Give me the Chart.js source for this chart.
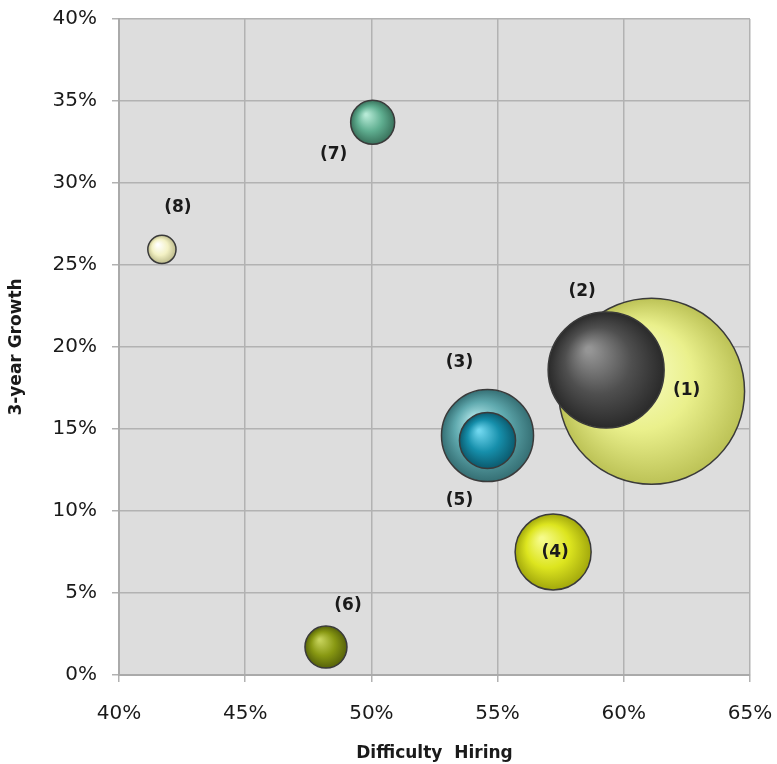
<!DOCTYPE html>
<html>
<head>
<meta charset="utf-8">
<script src="https://cdn.jsdelivr.net/npm/chart.js@4"></script>
<style>
  html, body { margin: 0; padding: 0; background: #fff; }
  #wrap { width: 777px; height: 764px; }
</style>
</head>
<body>
<div id="wrap"><canvas id="chart"></canvas></div>
<script>
// data
const labels = ["(1)", "(2)", "(3)", "(4)", "(5)", "(6)", "(7)", "(8)"];
const difficultyHiring = [0.611, 0.593, 0.546, 0.572, 0.546, 0.482, 0.5005, 0.417];
const growth3y = [0.173, 0.186, 0.146, 0.075, 0.143, 0.017, 0.337, 0.2595];
const bubbleSize = [100, 38.9, 24.5, 16.7, 9.1, 5.1, 5.6, 2.3];
const xTicks = [0.40, 0.45, 0.50, 0.55, 0.60, 0.65];
const yTicks = [0, 0.05, 0.10, 0.15, 0.20, 0.25, 0.30, 0.35, 0.40];

// [highlight, base, edge]
const colors = [
  ["#fbffcf", "#eaf08c", "#bcc256"],
  ["#959595", "#4f4f4f", "#2a2a2a"],
  ["#aee3e6", "#5fa9ae", "#356f74"],
  ["#f6fb8a", "#dde51f", "#a2a80c"],
  ["#6fd6ee", "#168fab", "#0b5a6e"],
  ["#c6d25a", "#889812", "#56620a"],
  ["#b6ead6", "#5fae90", "#39715b"],
  ["#ffffff", "#f3f1c4", "#bdbb8c"],
];

const maxR = 93;
const maxSize = Math.max(...bubbleSize);
const points = labels.map((l, i) => ({
  x: difficultyHiring[i],
  y: growth3y[i],
  r: maxR * Math.sqrt(bubbleSize[i] / maxSize),
}));

// label offsets relative to bubble centre
const labelOffsets = [
  [35, -1], [-24, -78], [-28, -73], [2, 1], [-28, 60], [22, -42], [-39, 32], [16, -42],
];

function sphereFill(c) {
  const col = colors[c.dataIndex];
  const xs = c.chart.scales.x, ys = c.chart.scales.y;
  if (!xs || !ys || !c.raw) return col[1];
  const cx = xs.getPixelForValue(c.raw.x);
  const cy = ys.getPixelForValue(c.raw.y);
  const r = c.raw.r;
  if (![cx, cy, r].every(Number.isFinite)) return col[1];
  const g = c.chart.ctx.createRadialGradient(cx - r * 0.3, cy - r * 0.35, r * 0.05, cx, cy, r);
  g.addColorStop(0, col[0]);
  g.addColorStop(0.55, col[1]);
  g.addColorStop(1, col[2]);
  return g;
}

const plotBg = {
  id: "plotBg",
  beforeDraw(chart) {
    const a = chart.chartArea, ctx = chart.ctx;
    ctx.save();
    ctx.fillStyle = "#dddddd";
    ctx.fillRect(a.left, a.top, a.right - a.left, a.bottom - a.top);
    ctx.restore();
  },
};

const bubbleLabels = {
  id: "bubbleLabels",
  afterDatasetsDraw(chart) {
    const ctx = chart.ctx;
    const meta = chart.getDatasetMeta(0);
    ctx.save();
    ctx.font = "bold 17px 'DejaVu Sans'";
    ctx.fillStyle = "#1a1a1a";
    ctx.textAlign = "center";
    ctx.textBaseline = "middle";
    meta.data.forEach((el, i) => {
      ctx.fillText(labels[i], el.x + labelOffsets[i][0], el.y + labelOffsets[i][1]);
    });
    ctx.restore();
  },
};

const pct = (v) => Math.round(v * 100) + "%";

new Chart(document.getElementById("chart"), {
  type: "bubble",
  data: {
    datasets: [
      {
        data: points,
        backgroundColor: sphereFill,
        borderColor: "#3a3a3a",
        borderWidth: 1.5,
        hoverBorderWidth: 1.5,
        clip: false,
      },
    ],
  },
  options: {
    responsive: true,
    maintainAspectRatio: false,
    animation: false,
    layout: { autoPadding: false, padding: { top: 19, right: 27, left: 0, bottom: 0 } },
    plugins: {
      legend: { display: false },
      tooltip: { enabled: false },
    },
    scales: {
      x: {
        min: 0.4,
        max: 0.65,
        afterBuildTicks: (s) => { s.ticks = xTicks.map((v) => ({ value: v })); },
        afterFit: (s) => {
          s.height = 89;
          s.paddingLeft = 0;
          s.paddingRight = 0;
        },
        grid: { color: "#b2b2b2", lineWidth: 1.5, tickLength: 7 },
        border: { color: "#aaaaaa", width: 2 },
        ticks: {
          callback: pct,
          color: "#1a1a1a",
          font: { family: "'DejaVu Sans'", size: 20 },
          padding: 20,
          maxRotation: 0,
        },
        title: {
          display: true,
          text: "Difficulty  Hiring",
          color: "#1a1a1a",
          font: { family: "'DejaVu Sans'", size: 17, weight: "bold" },
          padding: { top: 4, bottom: 0 },
        },
      },
      y: {
        min: 0,
        max: 0.4,
        afterBuildTicks: (s) => { s.ticks = yTicks.map((v) => ({ value: v })); },
        afterFit: (s) => {
          s.width = 119;
          s.paddingTop = 0;
          s.paddingBottom = 0;
        },
        grid: { color: "#b2b2b2", lineWidth: 1.5, tickLength: 7 },
        border: { color: "#aaaaaa", width: 2 },
        ticks: {
          callback: pct,
          color: "#1a1a1a",
          font: { family: "'DejaVu Sans'", size: 20 },
          padding: 15,
        },
        title: {
          display: true,
          text: "3-year Growth",
          color: "#1a1a1a",
          font: { family: "'DejaVu Sans'", size: 17, weight: "bold" },
          padding: { top: 6, bottom: 0 },
        },
      },
    },
  },
  plugins: [plotBg, bubbleLabels],
});
</script>
</body>
</html>
